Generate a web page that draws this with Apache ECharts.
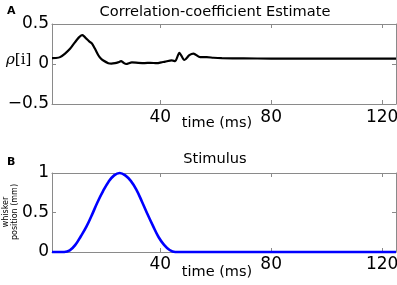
<!DOCTYPE html>
<html>
<head>
  <meta charset="UTF-8">
  <title>Correlation-coefficient Estimate</title>
  <script src="https://cdn.jsdelivr.net/npm/echarts@6/dist/echarts.min.js"></script>
  <style>
    body { margin: 0; background: #fff; }
    #chart { width: 397px; height: 285px; }
  </style>
</head>
<body>
  <div id="chart"></div>
  <script type="text/javascript">
    // panel A: correlation-coefficient estimate (time in ms, rho)
    var corrTime = [1, 2.4, 3.9, 5.7, 7.5, 8.7, 9.9, 10.9, 11.9, 12.6, 13.3, 14.5, 15.3, 16.5, 17.7, 18.6, 19.5, 21.3, 22.4, 23.7, 24.8, 25.9, 26.8, 27.7, 29.8, 32.1, 34.4, 36.4, 38.8, 40.4, 41.8, 44.2, 45.4, 46.9, 48.7, 50.5, 52, 54.4, 56.8, 59.2, 62.2, 70, 80, 90, 100, 110, 125];
    var corrValue = [0.073, 0.075, 0.086, 0.13, 0.19, 0.245, 0.30, 0.34, 0.36, 0.345, 0.32, 0.28, 0.26, 0.19, 0.11, 0.07, 0.044, 0.01, 0.005, 0.01, 0.02, 0.035, 0.015, 0.0, 0.02, 0.015, 0.012, 0.015, 0.01, 0.02, 0.03, 0.045, 0.035, 0.14, 0.05, 0.11, 0.13, 0.086, 0.086, 0.078, 0.073, 0.07, 0.068, 0.068, 0.068, 0.067, 0.067];

    // panel B: stimulus (whisker position, mm)
    var stimTime = [1, 3.4, 5.4, 7.4, 9.4, 11.4, 13.4, 15.4, 17.4, 19.4, 21.4, 23.4, 25.4, 27.4, 29.4, 31.4, 33.4, 35.4, 37.4, 39.4, 41.4, 43.4, 45.4, 47.4, 60, 90, 125];
    var stimValue = [0, 0, 0, 0.02, 0.09, 0.2, 0.32, 0.47, 0.63, 0.77, 0.89, 0.97, 1.0, 0.97, 0.9, 0.79, 0.64, 0.48, 0.33, 0.19, 0.09, 0.025, 0, 0, 0, 0, 0];

    var xTicks = [40, 80, 120];
    var titles = ['Correlation-coefficient Estimate', 'Stimulus'];

    function pairs(xs, ys) {
      return xs.map(function (x, i) { return [x, ys[i]]; });
    }

    var font = 'DejaVu Sans';
    var frame = '#8a8a8a';

    function xAxis(grid, bottomSide) {
      return {
        type: 'value', gridIndex: grid, min: 1, max: 125,
        position: bottomSide ? 'bottom' : 'top',
        axisLine: { show: true, onZero: false, lineStyle: { color: frame, width: 1 } },
        axisTick: { show: true, inside: true, length: 4, customValues: xTicks, lineStyle: { color: frame } },
        splitLine: { show: false },
        axisLabel: {
          show: bottomSide, margin: grid === 0 ? 5 : 4, customValues: xTicks,
          fontFamily: font, fontSize: 17, color: '#000'
        },
        name: bottomSide ? 'time (ms)' : '',
        nameLocation: 'middle', nameGap: grid === 0 ? 12 : 13, nameMoveOverlap: false,
        nameTextStyle: { fontFamily: font, fontSize: 14.5, color: '#000', padding: [0, 14, 0, 0], verticalAlign: 'top' }
      };
    }

    function yAxis(grid, leftSide, min, max) {
      return {
        type: 'value', gridIndex: grid, min: min, max: max, interval: 0.5,
        position: leftSide ? 'left' : 'right',
        axisLine: { show: true, onZero: false, lineStyle: { color: frame, width: 1 } },
        axisTick: { show: true, inside: true, length: 4, lineStyle: { color: frame } },
        splitLine: { show: false },
        axisLabel: {
          show: leftSide, margin: 3, fontFamily: font, fontSize: 17, color: '#000',
          formatter: function (v) { return String(v).replace('-', '\u2212'); }
        }
      };
    }

    var chart = echarts.init(document.getElementById('chart'), null, { renderer: 'canvas' });
    chart.setOption({
      animation: false,
      grid: [
        { left: 52, top: 24, width: 344, height: 80, outerBoundsMode: 'none' },
        { left: 52, top: 173, width: 344, height: 79, outerBoundsMode: 'none' }
      ],
      title: [
        { text: titles[0], left: 210, top: 0, textAlign: 'center',
          textStyle: { fontFamily: font, fontSize: 14.6, fontWeight: 'normal', color: '#000' } },
        { text: titles[1], left: 210, top: 147, textAlign: 'center',
          textStyle: { fontFamily: font, fontSize: 14.6, fontWeight: 'normal', color: '#000' } },
        { text: 'A', left: 2, top: 1, textStyle: { fontFamily: font, fontSize: 11, fontWeight: 'bold', color: '#000' } },
        { text: 'B', left: 2, top: 152, textStyle: { fontFamily: font, fontSize: 11, fontWeight: 'bold', color: '#000' } }
      ],
      graphic: [
        {
          type: 'text', left: 6, top: 53,
          style: {
            text: '{r|\u03c1}{b|[i]}',
            rich: {
              r: { fontFamily: 'DejaVu Serif', fontStyle: 'italic', fontSize: 15, fill: '#000' },
              b: { fontFamily: 'DejaVu Serif', fontSize: 15, fill: '#000' }
            }
          }
        },
        {
          type: 'text', x: 10, y: 212, rotation: Math.PI / 2,
          style: {
            text: 'whisker\nposition (mm)', fontFamily: font, fontSize: 8, lineHeight: 9,
            fill: '#000', align: 'center', verticalAlign: 'middle'
          }
        }
      ],
      xAxis: [xAxis(0, true), xAxis(0, false), xAxis(1, true), xAxis(1, false)],
      yAxis: [yAxis(0, true, -0.5, 0.5), yAxis(0, false, -0.5, 0.5), yAxis(1, true, 0, 1), yAxis(1, false, 0, 1)],
      series: [
        {
          type: 'line', xAxisIndex: 0, yAxisIndex: 0, data: pairs(corrTime, corrValue),
          showSymbol: false, smooth: 0.25, clip: false,
          lineStyle: { color: '#000', width: 2.2 }
        },
        {
          type: 'line', xAxisIndex: 2, yAxisIndex: 2, data: pairs(stimTime, stimValue),
          showSymbol: false, smooth: 0.4, clip: false,
          lineStyle: { color: '#0000ff', width: 2.6 }
        }
      ]
    });
  </script>
</body>
</html>
